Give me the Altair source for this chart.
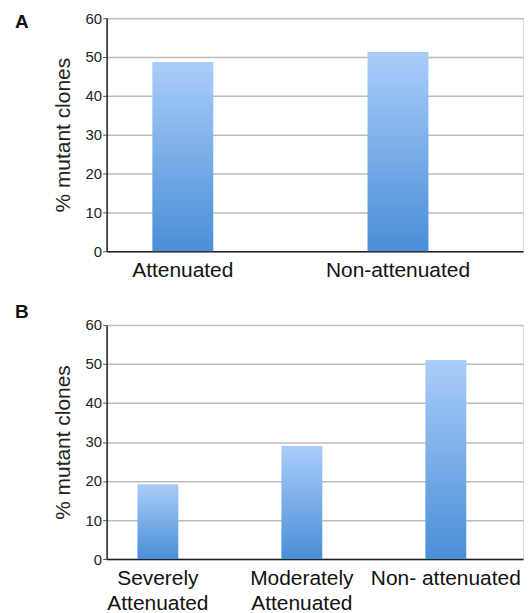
import altair as alt
import pandas as pd

# Panel A data
cats_a = ["Attenuated", "Non-attenuated"]
vals_a = [48.7, 51.3]

# Panel B data ("|" marks a line break in the axis label)
cats_b = ["Severely|Attenuated", "Moderately|Attenuated", "Non- attenuated"]
vals_b = [19.2, 29.0, 51.0]

y_ticks = [0, 10, 20, 30, 40, 50, 60]
y_title = "% mutant clones"
panel_labels = ["A", "B"]

FONT = "Liberation Sans"
grad = {
    "gradient": "linear",
    "x1": 0, "x2": 0, "y1": 0, "y2": 1,
    "stops": [
        {"offset": 0, "color": "#aacdf9"},
        {"offset": 1, "color": "#4a8ed7"},
    ],
}

W = 418


def y_enc():
    return alt.Y(
        "v:Q",
        scale=alt.Scale(domain=[0, 60], nice=False, zero=True),
        axis=alt.Axis(
            values=y_ticks,
            title=y_title,
            titleFontSize=21,
            titleFontWeight="normal",
            titleFont=FONT,
            titleColor="#222222",
            titlePadding=12,
            labelFontSize=15,
            labelFont=FONT,
            labelColor="#222222",
            labelPadding=1,
            tickSize=4,
            tickColor="#555555",
            tickWidth=1,
            domainColor="#222222",
            domainWidth=1.5,
            grid=True,
            gridColor="#bdbdbd",
            gridWidth=1.5,
        ),
    )


def x_enc(sort, pin, pout, align, lpad):
    return alt.X(
        "c:N",
        sort=sort,
        scale=alt.Scale(paddingInner=pin, paddingOuter=pout, align=align),
        axis=alt.Axis(
            title=None,
            labelAngle=0,
            labelFontSize=21,
            labelFont=FONT,
            labelColor="#111111",
            labelPadding=lpad,
            labelLineHeight=25,
            labelExpr="split(datum.label, '|')",
            ticks=False,
            domainColor="#222222",
            domainWidth=1.5,
            grid=False,
        ),
    )


def panel(cats, vals, label, height, pin, pout, align, label_y, lpad):
    df = pd.DataFrame({"c": cats, "v": vals})
    bars = alt.Chart(df).mark_bar(color=grad).encode(
        x=x_enc(cats, pin, pout, align, lpad),
        y=y_enc(),
    )
    lab = alt.Chart(pd.DataFrame({"t": [label]})).mark_text(
        font=FONT, fontSize=19, fontWeight="bold", align="left",
        baseline="alphabetic", color="#111111",
    ).encode(text="t:N", x=alt.value(-92), y=alt.value(label_y))
    return alt.layer(bars, lab).properties(width=W, height=height)


pa = panel(cats_a, vals_a, panel_labels[0], 234, 0.717, 0.326, 0.326, 10, 8)
pb = panel(cats_b, vals_b, panel_labels[1], 235, 0.716, 0.304, 0.352, -7, 9)

chart = alt.vconcat(pa, pb, spacing=21).resolve_scale(x="independent").properties(
    padding={"left": 6, "top": 1, "right": 0, "bottom": 0}
).configure_view(strokeWidth=0).configure(background="white")

chart.save("out.html", embed_options={"renderer": "svg", "actions": False})
